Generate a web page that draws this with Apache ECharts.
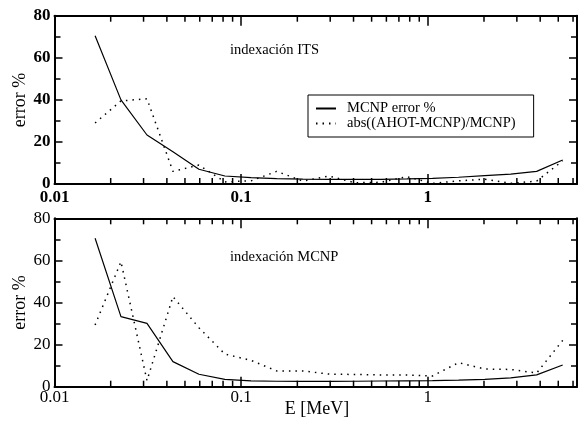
<!DOCTYPE html>
<html>
<head>
<meta charset="utf-8">
<script src="https://cdn.jsdelivr.net/npm/echarts@6/dist/echarts.min.js"></script>
<style>
  html, body { margin: 0; padding: 0; background: #fff; }
  #chart { width: 587px; height: 428px; }
</style>
</head>
<body>
<div id="chart"></div>
<script>
// ---- data ----
const energies = [0.0165, 0.0227, 0.0313, 0.0431, 0.0594, 0.0818, 0.113, 0.155, 0.214, 0.295, 0.406, 0.560, 0.771, 1.06, 1.46, 2.02, 2.78, 3.83, 5.28];
const itsMcnpError = [70.5, 40, 23.3, 15.3, 7.0, 3.8, 3.0, 2.6, 2.3, 2.2, 2.2, 2.2, 2.4, 2.7, 3.2, 4.0, 4.7, 6.0, 11.4];
const itsAbsDiff   = [29, 39.5, 40.5, 6, 9, 1, 1.5, 6, 1.4, 3.8, 0.6, 0.8, 3.5, 0.3, 1.5, 2.3, 0.3, 1.4, 11];
const mcnpMcnpError = [70.5, 33.3, 30.1, 11.9, 5.9, 3.5, 2.8, 2.6, 2.5, 2.5, 2.6, 2.7, 2.8, 2.9, 3.1, 3.5, 4.2, 5.6, 10.3];
const mcnpAbsDiff   = [29.3, 59.4, 2.9, 42.8, 28, 15.5, 12.5, 7.5, 7.5, 6, 5.8, 5.6, 5.6, 5.1, 11.4, 8.4, 8.2, 6.5, 22];
const xTickLabels = ['0.01', '0.1', '1'];
const minorTickValues = [0.02, 0.03, 0.04, 0.05, 0.06, 0.07, 0.08, 0.09, 0.2, 0.3, 0.4, 0.5, 0.6, 0.7, 0.8, 0.9, 2, 3, 4, 5, 6];
const seriesNames = ['MCNP error %', 'abs((AHOT-MCNP)/MCNP)'];
const panelTitles = ['indexación ITS', 'indexación MCNP'];
const xMin = 0.01, xMax = 6.3, yMin = 0, yMax = 80, yInterval = 20;

const FONT = '"Liberation Serif", "Times New Roman", serif';
const chart = echarts.init(document.getElementById('chart'), null, { renderer: 'canvas' });

function pairs(ys) { return energies.map((e, i) => [e, ys[i]]); }

function xAxisDef(gridIndex, position, showLabels, margin, bold) {
  return {
    type: 'log', logBase: 10, gridIndex, position, min: xMin, max: xMax,
    axisLine: { show: true, onZero: false, lineStyle: { color: '#000', width: 2 } },
    axisTick: { show: true, inside: true, length: 10, lineStyle: { color: '#000', width: 1.5 } },
    axisLabel: {
      show: showLabels, margin, color: '#000', fontFamily: FONT, fontSize: 17,
      fontWeight: bold ? 'bold' : 'normal',
      formatter: v => {
        const l = xTickLabels.find(t => Math.abs(Number(t) - v) < 1e-9 * Math.max(1, v));
        return l || '';
      }
    },
    splitLine: { show: false }, minorTick: { show: false }
  };
}
function yAxisDef(gridIndex, position, showLabels, bold) {
  return {
    type: 'value', gridIndex, position, min: yMin, max: yMax, interval: yInterval,
    axisLine: { show: true, onZero: false, lineStyle: { color: '#000', width: 2 } },
    axisTick: { show: true, inside: true, length: 8, lineStyle: { color: '#000', width: 1.5 } },
    minorTick: { show: true, splitNumber: 2, length: 6, lineStyle: { color: '#000', width: 1.5 } },
    axisLabel: { show: showLabels, margin: 4, color: '#000', fontFamily: FONT, fontSize: 17, fontWeight: bold ? 'bold' : 'normal' },
    splitLine: { show: false }
  };
}
function minorTickSeries(xi, yi) {
  return {
    type: 'custom', xAxisIndex: xi, yAxisIndex: yi, silent: true, clip: false, z: 5,
    data: minorTickValues.map(v => [v, yMin]),
    encode: { x: 0, y: 1 },
    renderItem: (params, api) => {
      const x = api.value(0);
      const pb = api.coord([x, yMin]);
      const pt = api.coord([x, yMax]);
      const st = { stroke: '#000', lineWidth: 1.5 };
      return { type: 'group', children: [
        { type: 'line', shape: { x1: pb[0], y1: pb[1], x2: pb[0], y2: pb[1] - 6 }, style: st },
        { type: 'line', shape: { x1: pt[0], y1: pt[1], x2: pt[0], y2: pt[1] + 6 }, style: st }
      ]};
    }
  };
}
function solid(xi, yi, ys) {
  return { name: seriesNames[0], type: 'line', xAxisIndex: xi, yAxisIndex: yi, data: pairs(ys),
    symbol: 'none', lineStyle: { color: '#000', width: 1.2 }, itemStyle: { color: '#000' } };
}
function dotted(xi, yi, ys) {
  return { name: seriesNames[1], type: 'line', xAxisIndex: xi, yAxisIndex: yi, data: pairs(ys),
    symbol: 'none', lineStyle: { color: '#000', width: 1.5, type: [1.5, 5] }, itemStyle: { color: '#000' } };
}

const option = {
  animation: false,
  backgroundColor: '#fff',
  grid: [
    { left: 54.5, right: 10, top: 15.7, height: 168.3 },
    { left: 54.5, right: 10, top: 218.3, height: 168.4 }
  ],
  xAxis: [
    xAxisDef(0, 'bottom', true, 5, true),
    xAxisDef(0, 'top', false, 0, false),
    xAxisDef(1, 'bottom', true, 2, false),
    xAxisDef(1, 'top', false, 0, false)
  ],
  yAxis: [
    yAxisDef(0, 'left', true, true),
    yAxisDef(0, 'right', false, false),
    yAxisDef(1, 'left', true, false),
    yAxisDef(1, 'right', false, false)
  ],
  legend: {
    left: 308, top: 95, orient: 'vertical',
    padding: [6, 18, 6, 7], itemGap: 0, itemWidth: 20, itemHeight: 13,
    borderColor: '#000', borderWidth: 1, backgroundColor: '#fff',
    itemStyle: { opacity: 0 },
    textStyle: { fontFamily: FONT, fontSize: 14.5, color: '#000', padding: [0, 0, 0, 6], lineHeight: 13.3 },
    data: seriesNames
  },
  series: [
    solid(0, 0, itsMcnpError),
    dotted(0, 0, itsAbsDiff),
    solid(2, 2, mcnpMcnpError),
    dotted(2, 2, mcnpAbsDiff),
    minorTickSeries(0, 0),
    minorTickSeries(2, 2)
  ],
  graphic: [
    { type: 'text', x: 230, y: 50, style: { text: panelTitles[0], font: '14.5px ' + FONT, fill: '#000', verticalAlign: 'middle' } },
    { type: 'text', x: 230, y: 257, style: { text: panelTitles[1], font: '14.5px ' + FONT, fill: '#000', verticalAlign: 'middle' } },
    { type: 'text', x: 20, y: 100, rotation: Math.PI / 2, style: { text: 'error %', font: '18px ' + FONT, fill: '#000', align: 'center', verticalAlign: 'middle' } },
    { type: 'text', x: 20, y: 302.5, rotation: Math.PI / 2, style: { text: 'error %', font: '18px ' + FONT, fill: '#000', align: 'center', verticalAlign: 'middle' } },
    { type: 'text', x: 317, y: 409, style: { text: 'E [MeV]', font: '18px ' + FONT, fill: '#000', align: 'center', verticalAlign: 'middle' } }
  ]
};
chart.setOption(option);
</script>
</body>
</html>
